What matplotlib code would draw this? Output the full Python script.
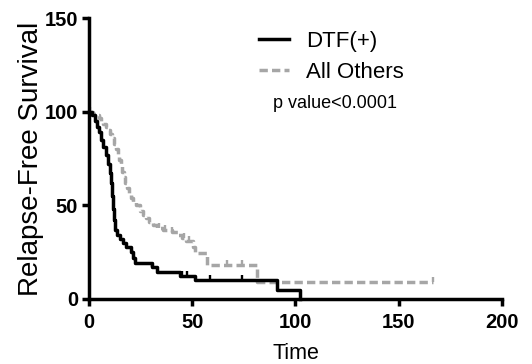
"""
Relapse-free survival, DTF(+) vs all others (Kaplan-Meier style step plot)
"""
import matplotlib
matplotlib.use("Agg")
import matplotlib.pyplot as plt
from matplotlib.path import Path

# DTF(+) curve: step times and survival after each step
dtf_time = [0, 1.5, 3, 4, 5, 6, 7, 8, 9, 10, 10.7, 11.3, 11.8, 12.3, 12.8,
            13.4, 15, 16.5, 18, 20.5, 21.5, 22.5, 30.3, 32.7, 44, 51.3, 91, 102]
dtf_surv = [100, 98, 95, 92, 89, 85, 81, 77, 72, 67, 62, 55, 48, 42, 37,
            34, 32, 30, 28, 25, 22, 19, 17, 14.5, 12.5, 10.1, 5, 0]
dtf_censor = [30.5, 45, 47.5, 58.5, 74]

# All others curve
oth_time = [0, 2, 4, 5, 6, 7, 8, 9, 10, 11, 12, 13, 13.8, 14.5, 15.3, 16,
            16.8, 17.6, 18.5, 19.5, 20.5, 21.5, 23, 24.5, 26, 27.5, 29, 31,
            33, 36, 40, 43, 45, 47, 50.5, 51.3, 57, 81.5, 166.8]
oth_surv = [100, 99, 98, 96.5, 95, 93.5, 92, 90, 88, 86, 83, 80, 77, 74, 71,
            68, 65, 62, 59, 56, 54, 52, 50, 47, 45, 43, 41, 39.5, 38, 37,
            35.5, 34, 32.5, 31, 28, 24.5, 18.1, 9, 9]
oth_censor = [0.5, 34, 37, 40, 46, 48.5, 66.7, 73.9, 166.8]

x_ticks = [0, 50, 100, 150, 200]
y_ticks = [0, 50, 100, 150]

BLACK = "black"
GREY = "#a6a6a6"
LW = 2.5


def surv_at(times, surv, t):
    """Survival value of a step curve at time t."""
    val = surv[0]
    for ti, si in zip(times, surv):
        if ti <= t:
            val = si
    return val


plt.rcParams["font.family"] = ["Liberation Sans", "DejaVu Sans"]

fig = plt.figure(figsize=(5.32, 3.64), dpi=100)
ax = fig.add_axes([0.1673, 0.1786, 0.7763, 0.7719])

tick_marker = Path([(0, 0), (0, 1)])

ax.plot(oth_time, oth_surv, drawstyle="steps-post", color=GREY, lw=LW,
        linestyle=(0, (2.4, 1.2)), label="All Others", clip_on=False, zorder=2)
ax.plot(oth_censor, [surv_at(oth_time, oth_surv, t) for t in oth_censor],
        linestyle="none", marker=tick_marker, ms=7, mew=1.7, color=GREY,
        clip_on=False, zorder=2)

ax.plot(dtf_time, dtf_surv, drawstyle="steps-post", color=BLACK, lw=LW,
        label="DTF(+)", clip_on=False, zorder=3)
ax.plot(dtf_censor, [surv_at(dtf_time, dtf_surv, t) for t in dtf_censor],
        linestyle="none", marker=tick_marker, ms=7, mew=1.7, color=BLACK,
        clip_on=False, zorder=3)

ax.set_xlim(0, 200)
ax.set_ylim(0, 150)
ax.set_xticks(x_ticks)
ax.set_yticks(y_ticks)
ax.tick_params(axis="both", length=5, width=LW, labelsize=14.5)
ax.tick_params(axis="x", pad=5)
ax.tick_params(axis="y", pad=3)
for lbl in ax.get_xticklabels() + ax.get_yticklabels():
    lbl.set_fontweight("bold")

for side in ["top", "right"]:
    ax.spines[side].set_visible(False)
for side in ["left", "bottom"]:
    ax.spines[side].set_linewidth(LW)

ax.set_xlabel("Time", fontsize=15.5, labelpad=8)
ax.set_ylabel("Relapse-Free Survival", fontsize=20, labelpad=0)

handles, labels = ax.get_legend_handles_labels()
ax.legend(handles[::-1], labels[::-1], loc="upper left", frameon=False,
          bbox_to_anchor=(0.39, 0.985), fontsize=16, handlelength=1.35,
          handletextpad=0.75, labelspacing=0.43, borderaxespad=0)

ax.text(89, 104.6, "p value<0.0001", fontsize=13, va="center", ha="left")

fig.savefig("out.png", dpi=100)
